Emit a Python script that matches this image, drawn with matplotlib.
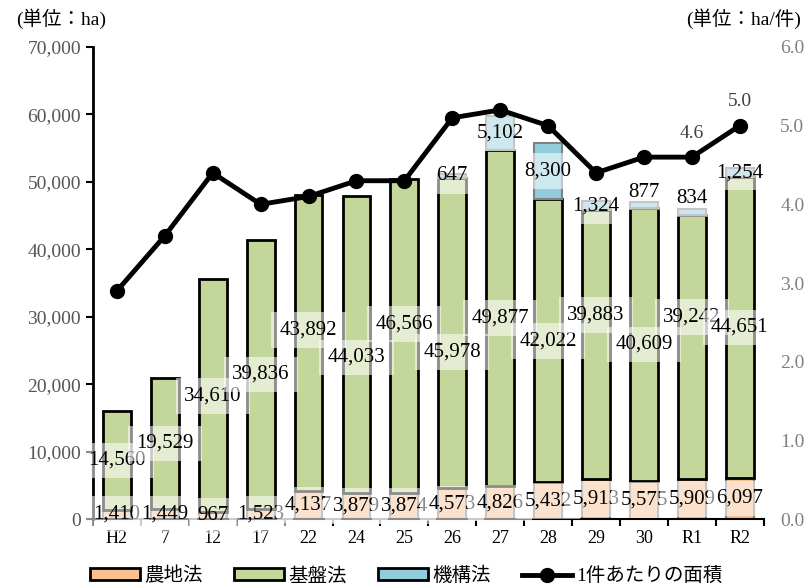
import numpy as np
import matplotlib
matplotlib.use('Agg')
from matplotlib import pyplot as plt
from matplotlib.ticker import FuncFormatter
from matplotlib.patches import Patch
from matplotlib.lines import Line2D

plt.rcParams['font.family'] = ['Liberation Serif', 'Noto Sans CJK JP', 'DejaVu Sans']

years = ['H2', '7', '12', '17', '22', '24', '25', '26', '27', '28', '29', '30', 'R1', 'R2']
nouchi = [1410, 1449, 967, 1523, 4137, 3879, 3874, 4573, 4826, 5432, 5913, 5575, 5909, 6097]
kiban = [14560, 19529, 34610, 39836, 43892, 44033, 46566, 45978, 49877, 42022, 39883, 40609, 39242, 44651]
kikou = [0, 0, 0, 0, 0, 0, 0, 647, 5102, 8300, 1324, 877, 834, 1254]
per_case = [2.9, 3.6, 4.4, 4.0, 4.1, 4.3, 4.3, 5.1, 5.2, 5.0, 4.4, 4.6, 4.6, 5.0]

nouchi = np.array(nouchi)
kiban = np.array(kiban)
kikou = np.array(kikou)
x = np.arange(len(years))
w = 0.58

# label nudges (pixels, up is positive) so labels don't pile up
kiban_nudge = {4: 13, 5: -13, 6: 12, 7: -19, 10: 30, 12: 30}
kikou_nudge = {11: 12, 12: 13}

fig = plt.figure(figsize=(8.12, 5.86), dpi=100)
ax = fig.add_axes([0.1145, 0.1143, 0.826, 0.8055])

c_nouchi = '#FAC090'
c_kiban = '#C4D79B'
c_kikou = '#92CDDC'

ax.bar(x, nouchi, w, color=c_nouchi, edgecolor='#808080', linewidth=1.5, zorder=2)
ax.bar(x, kiban, w, bottom=nouchi, color=c_kiban, edgecolor='black', linewidth=2, zorder=2)
ax.bar(x, kikou, w, bottom=nouchi + kiban, color=c_kikou, edgecolor='#808080',
       linewidth=[1.5 if k > 0 else 0 for k in kikou], zorder=2)

box = dict(boxstyle='square,pad=0.4', facecolor='white', alpha=0.55, edgecolor='none')
fs = 15


def label(xi, yi, val, dy=0):
    ax.annotate(f'{val:,}', (xi, yi), xytext=(0, dy), textcoords='offset pixels',
                ha='center', va='center', fontsize=fs, bbox=box, zorder=4)


for i in range(len(years)):
    label(x[i], nouchi[i] / 2, nouchi[i])
    label(x[i], nouchi[i] + kiban[i] / 2, kiban[i], kiban_nudge.get(i, 0))
    if kikou[i] > 0:
        label(x[i], nouchi[i] + kiban[i] + kikou[i] / 2, kikou[i], kikou_nudge.get(i, 0))

ax.set_xlim(-0.5, len(years) - 0.5)
ax.set_ylim(0, 70000)
ax.set_yticks(np.arange(0, 70001, 10000))
ax.yaxis.set_major_formatter(FuncFormatter(lambda v, p: f'{int(v):,}'))
ax.set_xticks(x)
ax.set_xticklabels(years)
ax.set_xticks(np.arange(-0.5, len(years)), minor=True)
ax.tick_params(axis='x', which='major', length=0, labelsize=13, pad=8)
ax.tick_params(axis='x', which='minor', length=5, width=1.5, direction='out')
ax.tick_params(axis='y', length=5, width=1.5, labelsize=14, labelcolor='#555555')
for s in ['top', 'right']:
    ax.spines[s].set_visible(False)
ax.spines['left'].set_linewidth(2)
ax.spines['bottom'].set_linewidth(1.5)

ax2 = ax.twinx()
ax2.plot(x, per_case, color='black', linewidth=3.5, marker='o', markersize=10, zorder=5)
ax2.set_ylim(0, 6)
ax2.set_yticks(np.arange(0, 6.01, 1))
ax2.yaxis.set_major_formatter(FuncFormatter(lambda v, p: f'{v:.1f}'))
ax2.tick_params(axis='y', length=0, labelsize=14, labelcolor='#808080', pad=12)
for s in ['top', 'right', 'left', 'bottom']:
    ax2.spines[s].set_visible(False)
for i in [12, 13]:
    ax2.annotate(f'{per_case[i]:.1f}', (x[i], per_case[i]), xytext=(0, 11),
                 textcoords='offset points', ha='center', va='bottom', fontsize=14, color='#404040')

fig.text(0.02, 0.968, '(単位：ha)', fontsize=14, ha='left', va='center')
fig.text(0.987, 0.968, '(単位：ha/件)', fontsize=14, ha='right', va='center')

handles = [Patch(facecolor=c_nouchi, edgecolor='black', linewidth=2),
           Patch(facecolor=c_kiban, edgecolor='black', linewidth=2),
           Patch(facecolor=c_kikou, edgecolor='black', linewidth=2),
           Line2D([], [], color='black', linewidth=3.5, marker='o', markersize=10)]
fig.legend(handles, ['農地法', '基盤法', '機構法', '1件あたりの面積'],
           loc='center', bbox_to_anchor=(0.5, 0.017), ncol=4, frameon=False,
           fontsize=14, handlelength=2.6, handleheight=0.55, columnspacing=1.6, handletextpad=0.2)

fig.savefig('out.png', dpi=100)
